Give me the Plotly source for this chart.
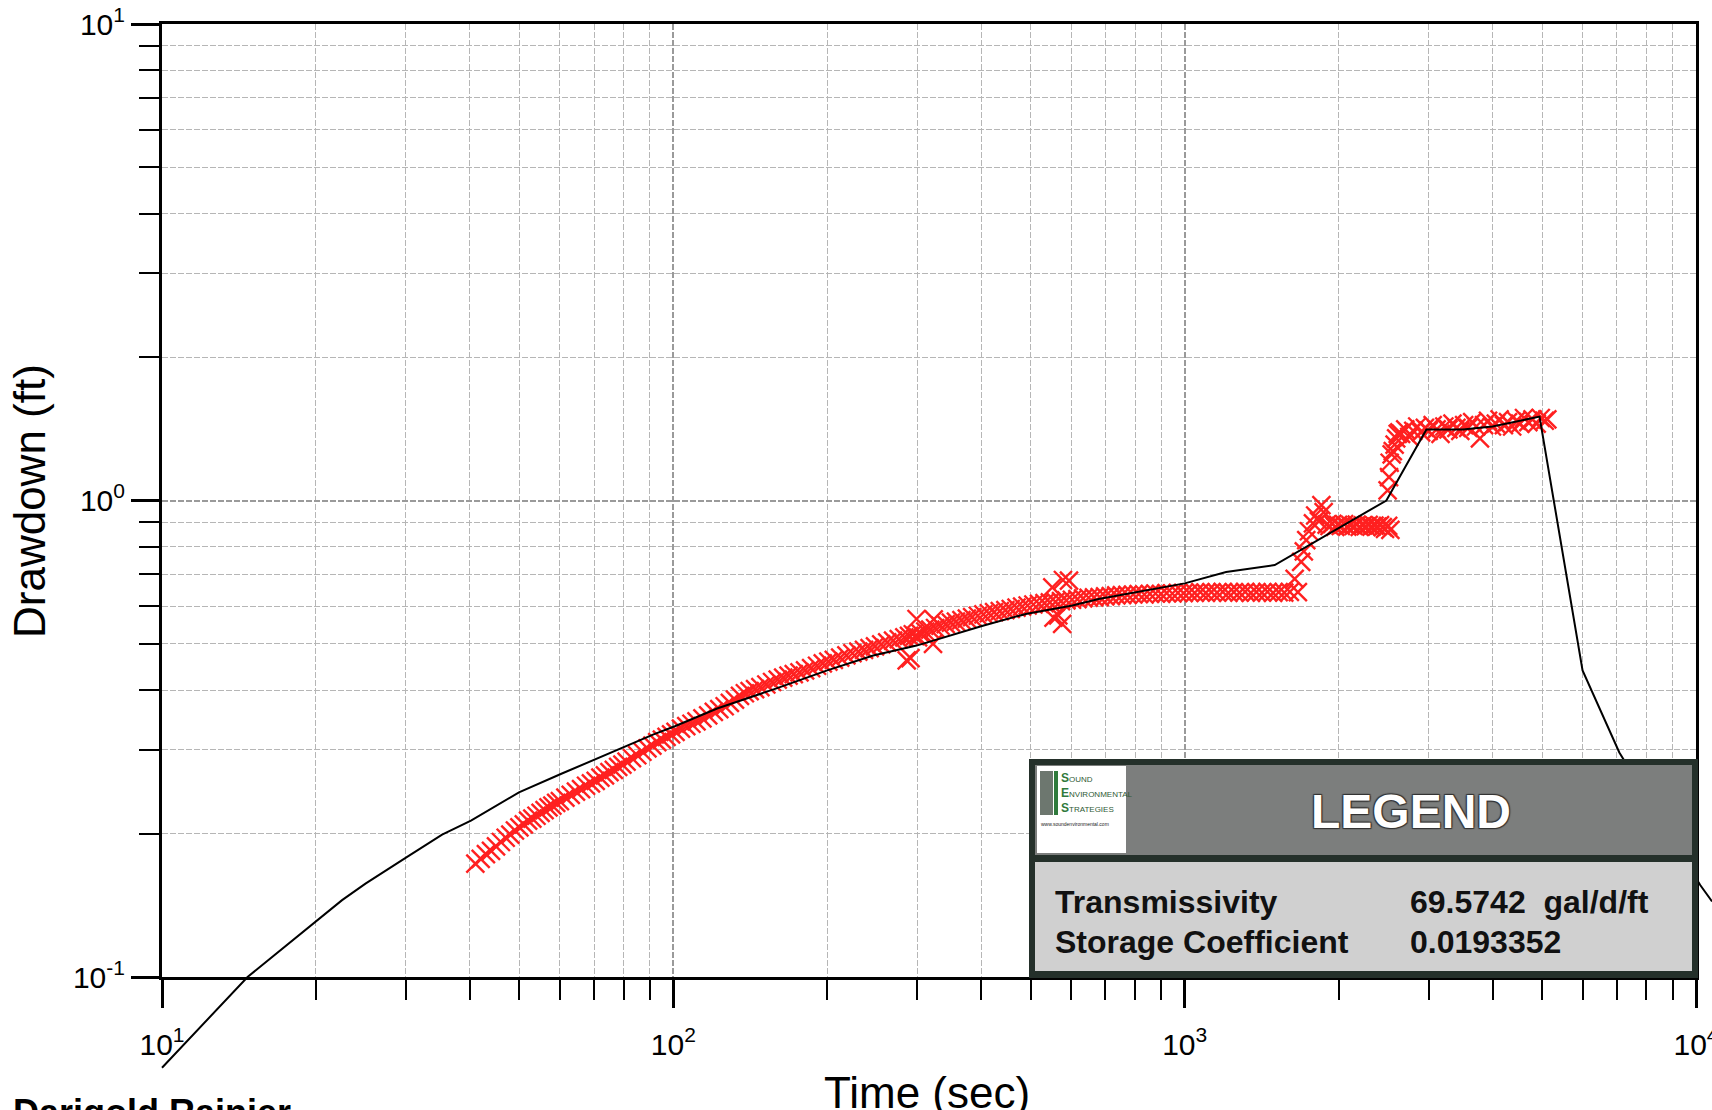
import plotly.graph_objects as go

# ---------------- data ----------------
obs_time = [
    41, 42, 43, 44, 45, 46, 47, 48, 49, 50, 51, 52, 53, 54, 55, 56, 57, 58, 59, 60,
    61.5, 63, 64.5, 66, 67.5, 69, 70.5, 72, 73.5, 75, 76.5, 78, 79.5, 81,
    83, 85, 87, 89, 91, 93, 95, 97, 99, 101,
    103.5, 106, 108.5, 111,
    114, 117, 120, 123, 126, 129, 132, 135, 138, 141,
    144.5, 148, 152, 156, 160, 164, 168, 172, 176.5, 181, 186, 191, 196, 201, 206,
    212, 218, 224, 230, 236, 242, 248, 255, 262, 269, 276, 283, 286, 289, 291, 294,
    297, 299, 301, 304, 311, 318, 322, 323, 325, 333, 341, 349, 357, 366, 375, 384,
    394, 404, 414, 424, 435, 446, 457, 469, 481, 493, 506, 519, 532, 545, 551, 554,
    559, 566, 573, 576, 578, 587, 594, 602, 617, 633, 649, 665, 682, 699, 717, 735,
    754, 773, 793, 813, 834, 855, 877, 899, 922, 946, 970, 995, 1020, 1046, 1073,
    1100, 1128, 1157, 1187, 1217, 1248, 1280, 1313, 1347, 1381, 1416, 1452, 1489,
    1527, 1566, 1606, 1641, 1665, 1690, 1710, 1729, 1750, 1782, 1800, 1830, 1851,
    1870, 1895, 1920, 1945, 1970, 1995, 2020, 2050, 2080, 2110, 2140, 2170, 2200,
    2230, 2260, 2290, 2320, 2350, 2380, 2410, 2440, 2465, 2494, 2500, 2510, 2517,
    2525, 2540, 2553, 2574, 2592, 2610, 2630, 2650, 2700, 2750, 2800, 2850, 2900,
    2950, 3000, 3055, 3110, 3165, 3220, 3280, 3340, 3400, 3460, 3520, 3585, 3650,
    3715, 3780, 3850, 3920, 3990, 4060, 4130, 4210, 4290, 4370, 4450, 4530, 4610,
    4700, 4790, 4880, 4970, 5060, 5120,
]
obs_drawdown = [
    0.173, 0.177, 0.181, 0.184, 0.188, 0.192, 0.196, 0.199, 0.203, 0.206, 0.209, 0.213,
    0.215, 0.218, 0.221, 0.224, 0.227, 0.229, 0.232, 0.234,
    0.238, 0.241, 0.245, 0.248, 0.252, 0.255, 0.258, 0.262, 0.265, 0.269, 0.272, 0.276,
    0.279, 0.283,
    0.288, 0.292, 0.297, 0.302, 0.306, 0.311, 0.315, 0.319, 0.323, 0.327,
    0.332, 0.336, 0.340, 0.344,
    0.349, 0.354, 0.360, 0.365, 0.370, 0.376, 0.382, 0.389, 0.394, 0.398,
    0.402, 0.406, 0.411, 0.416, 0.421, 0.425, 0.429, 0.432, 0.436, 0.440, 0.445, 0.450,
    0.455, 0.459, 0.463,
    0.468, 0.473, 0.478, 0.482, 0.486, 0.490, 0.494, 0.499, 0.504, 0.508, 0.512, 0.516,
    0.462, 0.520, 0.467, 0.524,
    0.519, 0.564, 0.516, 0.527, 0.531, 0.536, 0.500, 0.563, 0.540, 0.546, 0.550, 0.554,
    0.557, 0.561, 0.565, 0.569,
    0.573, 0.577, 0.580, 0.583, 0.586, 0.589, 0.592, 0.596, 0.599, 0.602, 0.605, 0.607,
    0.609, 0.611, 0.657, 0.568,
    0.613, 0.574, 0.615, 0.551, 0.681, 0.617, 0.679, 0.619, 0.621, 0.623, 0.625, 0.626,
    0.627, 0.629, 0.630, 0.632,
    0.633, 0.634, 0.635, 0.636, 0.635, 0.637, 0.638, 0.637, 0.639, 0.638, 0.640, 0.639,
    0.641, 0.640, 0.642,
    0.640, 0.642, 0.641, 0.643, 0.640, 0.642, 0.641, 0.643, 0.640, 0.642, 0.641, 0.643,
    0.640,
    0.642, 0.641, 0.643, 0.685, 0.642, 0.743, 0.782, 0.826, 0.862, 0.895, 0.930, 0.905,
    0.978,
    0.945, 0.890, 0.884, 0.893, 0.880, 0.889, 0.884, 0.892, 0.881, 0.888, 0.884, 0.890,
    0.880,
    0.887, 0.883, 0.889, 0.881, 0.886, 0.882, 0.888, 0.879, 0.872, 1.05, 0.885, 1.12,
    1.20,
    0.868, 1.25, 1.27, 1.31, 1.35, 1.38, 1.39, 1.38, 1.41, 1.36, 1.40, 1.43, 1.39,
    1.42, 1.40, 1.44, 1.41, 1.38, 1.43, 1.41, 1.45, 1.42, 1.40, 1.44, 1.42, 1.46,
    1.43, 1.35, 1.44, 1.47, 1.43, 1.45, 1.48, 1.44, 1.46, 1.43, 1.47, 1.45, 1.49,
    1.46, 1.48, 1.45, 1.49, 1.47, 1.48,
]

curve_time = [10.0, 14.7, 22.5, 25.0, 30.0, 35.3, 40.2, 49.9, 60.4, 71.1, 81.1, 91.5,
              100.7, 121.8, 157.6, 200, 246, 299, 403, 489, 603, 679, 1000, 1205,
              1500, 2480, 2970, 3500, 4000, 4943, 6000, 7080, 10190, 10750]
curve_drawdown = [0.0645, 0.100, 0.145, 0.157, 0.178, 0.199, 0.213, 0.244, 0.267, 0.288,
                  0.305, 0.323, 0.336, 0.366, 0.402, 0.440, 0.473, 0.496, 0.546, 0.578,
                  0.602, 0.621, 0.670, 0.708, 0.732, 1.00, 1.41, 1.41, 1.43, 1.50, 0.44,
                  0.296, 0.156, 0.144]

x_tick_vals = [10, 100, 1000, 10000]
x_tick_text = ["10<sup>1</sup>", "10<sup>2</sup>", "10<sup>3</sup>", "10<sup>4</sup>"]
y_tick_vals = [0.1, 1, 10]
y_tick_text = ["10<sup>-1</sup>", "10<sup>0</sup>", "10<sup>1</sup>"]

legend_labels = ["Transmissivity", "Storage Coefficient"]
legend_values = ["69.5742\u00a0 gal/d/ft", "0.0193352"]
logo_initials = ["S", "E", "S"]
logo_words = ["OUND", "NVIRONMENTAL", "TRATEGIES"]

# ---------------- layout geometry (pixels) ----------------
W, H = 1712, 1110
PL, PR, PT, PB = 162, 1696, 24, 977
FONT = "Liberation Sans, Arial, Helvetica, sans-serif"


def fx(px):
    return px / W


def fy(py):
    return 1 - py / H


dec_x = (PR - PL) / 3.0
dec_y = (PB - PT) / 2.0
x2_range = [1 - PL / dec_x, 4 + (W - PR) / dec_x]
y2_range = [-1 - (H - PB) / dec_y, 1 + PT / dec_y]

x_minor = [m * 10 ** e for e in (1, 2, 3) for m in range(2, 10)]
y_minor = [m * 10.0 ** e for e in (-1, 0) for m in range(2, 10)]

GRID_DASH = "6px,2px"

fig = go.Figure()

fig.add_trace(go.Scatter(
    x=obs_time, y=obs_drawdown, mode="markers", xaxis="x", yaxis="y",
    marker=dict(symbol="x-thin", size=18, color="#ff2020",
                line=dict(color="#ff2020", width=2.4)),
    showlegend=False, hoverinfo="skip",
))

fig.add_trace(go.Scatter(
    x=curve_time, y=curve_drawdown, mode="lines", xaxis="x2", yaxis="y2",
    line=dict(color="black", width=2), showlegend=False, hoverinfo="skip",
))

axis_common = dict(
    type="log", tickmode="array", ticks="outside", ticklen=28, tickwidth=3,
    tickcolor="black", showline=True, linewidth=3, linecolor="black", mirror=True,
    showgrid=True, gridcolor="#9a9a9a", gridwidth=1.5, griddash=GRID_DASH,
    zeroline=False, tickfont=dict(family=FONT, size=30, color="black"),
    fixedrange=True, automargin=False, ticklabeloverflow="allow",
)

fig.update_layout(
    template="none",
    width=W, height=H,
    margin=dict(l=0, r=0, t=0, b=0, pad=0, autoexpand=False),
    paper_bgcolor="white", plot_bgcolor="rgba(0,0,0,0)",
    showlegend=False,
    xaxis=dict(axis_common, range=[1, 4], domain=[fx(PL), fx(PR)], anchor="y",
               tickvals=x_tick_vals, ticktext=x_tick_text, ticklabelstandoff=11,
               minor=dict(tickvals=x_minor, ticks="outside", ticklen=20, tickwidth=2,
                          tickcolor="black", showgrid=True, gridcolor="#b6b6b6",
                          gridwidth=1, griddash=GRID_DASH)),
    yaxis=dict(axis_common, range=[-1, 1], domain=[fy(PB), fy(PT)], anchor="x",
               tickvals=y_tick_vals, ticktext=y_tick_text, ticklabelstandoff=0,
               minor=dict(tickvals=y_minor, ticks="outside", ticklen=20, tickwidth=2,
                          tickcolor="black", showgrid=True, gridcolor="#b6b6b6",
                          gridwidth=1, griddash=GRID_DASH)),
    xaxis2=dict(type="log", range=x2_range, domain=[0, 1], anchor="y2", visible=False,
                fixedrange=True, automargin=False),
    yaxis2=dict(type="log", range=y2_range, domain=[0, 1], anchor="x2", visible=False,
                fixedrange=True, automargin=False),
)

shapes = []


def rect(x0, y0, x1, y1, fill, lw=0, lc="black"):
    shapes.append(dict(type="rect", xref="paper", yref="paper", layer="above",
                       x0=fx(x0), x1=fx(x1), y0=fy(y1), y1=fy(y0),
                       fillcolor=fill, line=dict(width=lw, color=lc)))


# legend box
rect(1029, 759, 1698, 978, "#24302a")
rect(1035, 765, 1692, 855, "#7c7e7d")
rect(1035, 862, 1692, 971, "#d0d0d0")
rect(1037, 766, 1126, 853, "#ffffff")
# logo picture
rect(1040, 771, 1053, 815, "#6d776f")
rect(1054, 771, 1058, 815, "#2f7a3c")
fig.update_layout(shapes=shapes)

ann = []
ann.append(dict(text="<b>LEGEND</b>", x=fx(1411), y=fy(811), xref="paper", yref="paper",
                showarrow=False, xanchor="center", yanchor="middle",
                font=dict(family=FONT, size=48, color="white",
                          shadow="1px 1px 1px #333, -1px -1px 1px #333, 1px -1px 1px #333, -1px 1px 1px #333")))
for i, (lab, val) in enumerate(zip(legend_labels, legend_values)):
    yy = [902, 942][i]
    ann.append(dict(text="<b>%s</b>" % lab, x=fx(1053), y=fy(yy), xref="paper",
                    yref="paper", showarrow=False, xanchor="left", yanchor="middle",
                    font=dict(family=FONT, size=32, color="#111111")))
    ann.append(dict(text="<b>%s</b>" % val, x=fx(1408), y=fy(yy), xref="paper",
                    yref="paper", showarrow=False, xanchor="left", yanchor="middle",
                    font=dict(family=FONT, size=32, color="#111111")))
# logo text, one line each
for i, (a, b) in enumerate(zip(logo_initials, logo_words)):
    ann.append(dict(text="<span style='font-size:12px;color:#2f7a3c'><b>%s</b></span>%s" % (a, b),
                    x=fx(1059), y=fy(778 + 15 * i), xref="paper", yref="paper",
                    showarrow=False, xanchor="left", yanchor="middle", align="left",
                    font=dict(family=FONT, size=8, color="#2f5a35")))
ann.append(dict(text="www.soundenvironmental.com", x=fx(1039), y=fy(824), xref="paper",
                yref="paper", showarrow=False, xanchor="left", yanchor="middle",
                font=dict(family=FONT, size=5, color="#222222")))

# axis titles and footer
ann.append(dict(text="Drawdown (ft)", x=fx(29), y=fy(501), xref="paper", yref="paper",
                showarrow=False, textangle=-90, xanchor="center", yanchor="middle",
                font=dict(family=FONT, size=44, color="black")))
ann.append(dict(text="Time (sec)", x=fx(927), y=fy(1092), xref="paper", yref="paper",
                showarrow=False, xanchor="center", yanchor="middle",
                font=dict(family=FONT, size=44, color="black")))
ann.append(dict(text="<b>Darigold Rainier</b>", x=fx(11), y=fy(1112), xref="paper",
                yref="paper", showarrow=False, xanchor="left", yanchor="middle",
                font=dict(family=FONT, size=36, color="black")))
fig.update_layout(annotations=ann)

fig.write_html("out.html", config={"displayModeBar": False},
               post_script="document.body.style.margin='0';document.body.style.overflow='hidden';")
